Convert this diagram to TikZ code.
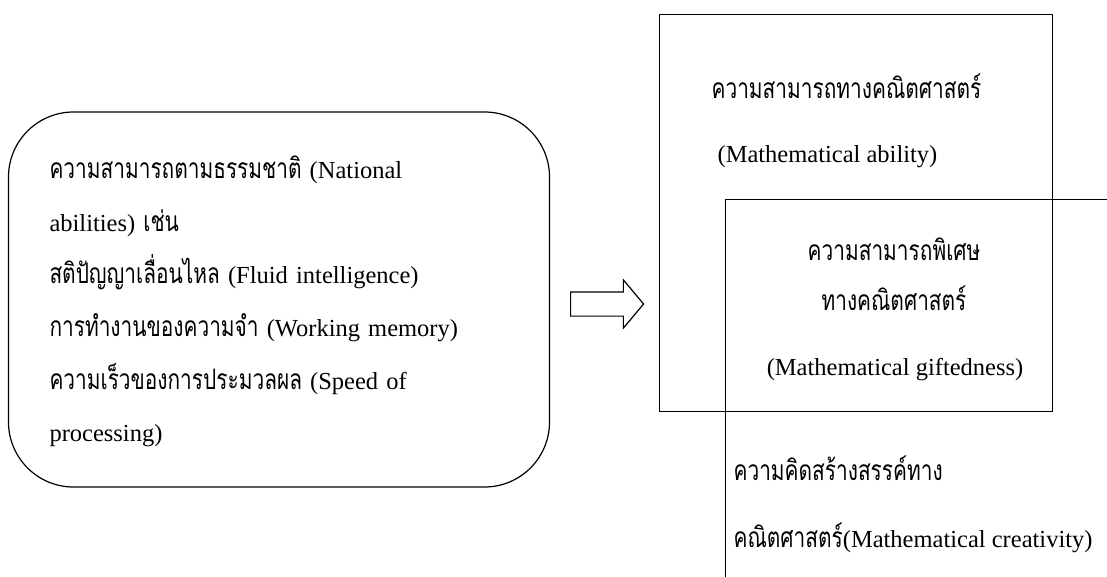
\documentclass[tikz,border=0pt]{standalone}
\usepackage{fontspec}
\setmainfont{Liberation Serif}
\newfontfamily\thaifont[Script=Thai,Scale=1.15,FakeStretch=0.74]{Loma}
\usetikzlibrary{shapes.arrows, positioning}

\newcommand{\tha}[1]{{\thaifont #1}}

\begin{document}
\begin{tikzpicture}[
    x=1pt, y=-1pt,
    line width=1.2pt,
    font=\fontsize{24.5}{52.6}\selectfont,
    % box styles
    roundbox/.style={rectangle, rounded corners=65pt, draw=black, minimum width=541pt, minimum height=375pt, inner sep=0pt},
    squarebox/.style={rectangle, draw=black, inner sep=0pt},
    fatarrow/.style={single arrow, draw=black, inner xsep=0pt, inner ysep=11.5pt, minimum height=73pt, single arrow head extend=12pt, single arrow tip angle=100},
    boxtext/.style={inner sep=0pt, align=left}
  ]
    \clip (0,0) rectangle (1107,577);

    % --- left box ---
    \node[roundbox] (natural) at (279,299.5) {};
    \node[boxtext, text width=459pt, yshift=-2pt] (naturaltext) at (natural.center) {
        \tha{ความสามารถตามธรรมชาติ} (National\\
        abilities) \tha{เช่น}\\
        \tha{สติปัญญาเลื่อนไหล} (Fluid intelligence)\\
        \tha{การทำงานของความจำ} (Working memory)\\
        \tha{ความเร็วของการประมวลผล} (Speed of\\
        processing)
    };

    \node[fatarrow, anchor=tail] (toright) at (570,304) {};

    % --- overlapping boxes ---
    \node[squarebox, anchor=north west, minimum width=393pt, minimum height=397pt] (ability) at (659,14) {};
    \node[squarebox, anchor=north west, minimum width=420pt, minimum height=420pt] (creative) at (725,199) {};

    % texts
    \node[boxtext, anchor=base west] (abilityth) at (711,99) {\tha{ความสามารถทางคณิตศาสตร์}};
    \node[boxtext, anchor=base west] (abilityen) at (717,163) {(Mathematical ability)};

    \node[boxtext, anchor=base] (giftth) at (894,260) {\tha{ความสามารถพิเศษ}};
    \node[boxtext, anchor=base] (giftth2) at (894,310) {\tha{ทางคณิตศาสตร์}};
    \node[boxtext, anchor=base] (giften) at (895,375) {(Mathematical giftedness)};

    \node[boxtext, anchor=base west] (creativeth) at (733,480) {\tha{ความคิดสร้างสรรค์ทาง}};
    \node[boxtext, anchor=base west] (creativeen) at (733,547) {\tha{คณิตศาสตร์}(Mathematical creativity)};
\end{tikzpicture}
\end{document}
